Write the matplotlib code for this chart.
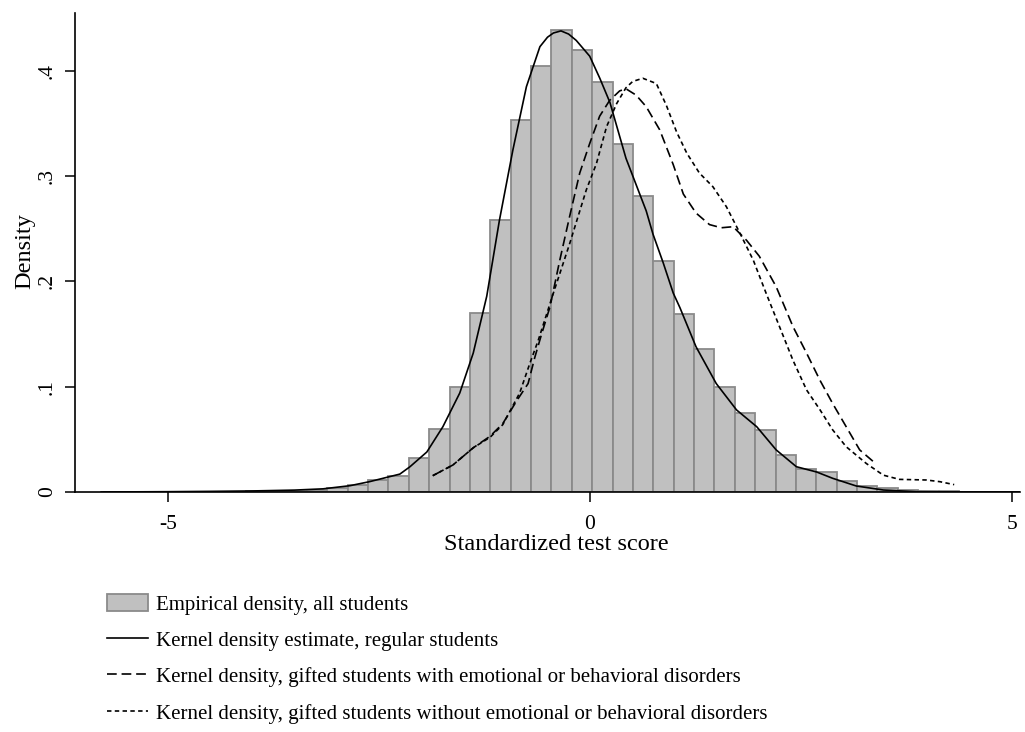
import numpy as np
import matplotlib
matplotlib.use("Agg")
import matplotlib.pyplot as plt
from matplotlib.patches import Patch
from matplotlib.lines import Line2D

plt.rcParams['font.family'] = ['Liberation Serif', 'DejaVu Serif']
plt.rcParams['lines.scale_dashes'] = False

# ---------------- data ----------------
bin_start = -5.766
bin_width = 0.2415
hist_heights = [0.0002, 0.0001, 0.0001, 0.0002, 0.0002, 0.0003, 0.0004, 0.0005,
                0.0008, 0.0012, 0.0019, 0.0035, 0.0067, 0.0114, 0.0155, 0.0326,
                0.0599, 0.0995, 0.170, 0.258, 0.353, 0.405, 0.439, 0.420,
                0.3895, 0.331, 0.281, 0.219, 0.169, 0.1356, 0.100, 0.0747,
                0.0589, 0.0348, 0.0215, 0.0187, 0.0105, 0.0057, 0.0035, 0.0019,
                0.0010, 0.0006, 0.0003, 0.0002, 0.0001]

regular_x = [-5.79, -5.0, -4.5, -4.0, -3.5, -3.16, -2.84, -2.61, -2.37, -2.25,
             -2.13, -1.93, -1.74, -1.54, -1.38, -1.22, -1.07, -0.91, -0.83, -0.75, -0.59,
             -0.50, -0.43, -0.34, -0.25, -0.16, 0.0, 0.12, 0.24, 0.43, 0.55, 0.67, 0.75, 0.87,
             0.99, 1.07, 1.26, 1.50, 1.74, 1.98, 2.21, 2.45, 2.69, 2.88, 3.16,
             3.48, 3.87, 4.5, 5.1]
regular_y = [0.0, 0.0003, 0.0006, 0.001, 0.0018, 0.003, 0.006, 0.0098, 0.0146, 0.017,
             0.024, 0.038, 0.062, 0.094, 0.132, 0.186, 0.258, 0.325, 0.355, 0.385, 0.423,
             0.432, 0.436, 0.438, 0.435, 0.429, 0.414, 0.393, 0.370, 0.317, 0.292, 0.267, 0.245, 0.218,
             0.189, 0.175, 0.138, 0.103, 0.078, 0.062, 0.040, 0.024, 0.019, 0.013, 0.0057,
             0.0019, 0.0003, 0.0, 0.0]

ebd_x = [-1.86, -1.62, -1.38, -1.18, -1.03, -0.87, -0.73, -0.65, -0.57, -0.47,
         -0.355, -0.237, -0.118, 0.0, 0.118, 0.237, 0.355, 0.43, 0.55, 0.67,
         0.83, 0.99, 1.11, 1.26, 1.42, 1.56, 1.70, 1.86, 2.01, 2.21, 2.41,
         2.57, 2.73, 2.88, 3.04, 3.20, 3.36]
ebd_y = [0.0155, 0.0257, 0.042, 0.053, 0.065, 0.086, 0.103, 0.128, 0.150, 0.176,
         0.220, 0.262, 0.303, 0.331, 0.357, 0.372, 0.381, 0.383, 0.377, 0.366,
         0.344, 0.311, 0.283, 0.265, 0.254, 0.251, 0.252, 0.239, 0.224, 0.195, 0.157,
         0.132, 0.106, 0.084, 0.062, 0.040, 0.029]

noebd_x = [-1.86, -1.62, -1.38, -1.18, -1.03, -0.83, -0.71, -0.61, -0.43, -0.237,
           -0.04, 0.08, 0.20, 0.32, 0.43, 0.51, 0.63, 0.79, 0.91, 1.03, 1.15,
           1.30, 1.46, 1.62, 1.78, 1.94, 2.09, 2.25, 2.41, 2.57, 2.73, 2.88,
           3.04, 3.28, 3.48, 3.67, 3.99, 4.15, 4.32]
noebd_y = [0.0155, 0.0257, 0.042, 0.052, 0.064, 0.094, 0.122, 0.144, 0.189, 0.236,
           0.287, 0.312, 0.347, 0.369, 0.384, 0.390, 0.393, 0.388, 0.367, 0.342, 0.322,
           0.303, 0.290, 0.271, 0.246, 0.220, 0.189, 0.157, 0.125, 0.097, 0.078, 0.059,
           0.043, 0.027, 0.016, 0.012, 0.0114, 0.0098, 0.0070]

x_ticks = [-5, 0, 5]
x_ticklabels = ['-5', '0', '5']
y_ticks = [0, 0.1, 0.2, 0.3, 0.4]
y_ticklabels = ['0', '.1', '.2', '.3', '.4']

legend_labels = ['Empirical density, all students',
                 'Kernel density estimate, regular students',
                 'Kernel density, gifted students with emotional or behavioral disorders',
                 'Kernel density, gifted students without emotional or behavioral disorders']

# ---------------- plot ----------------
FS_TICK = 15.5
FS_TITLE = 17.5
FS_LEG = 15.0
fig = plt.figure(figsize=(10.25, 7.32), dpi=100)
ax = fig.add_axes([75/1025, 1-492/732, (1020-75)/1025, (492-13)/732])

edges = bin_start + bin_width*np.arange(len(hist_heights))
ax.bar(edges, hist_heights, width=bin_width, align='edge',
       color='#c0c0c0', edgecolor='#8a8a8a', linewidth=1.3, zorder=1)

lw = 1.2
ax.plot(regular_x, regular_y, color='black', lw=lw, zorder=3)
ax.plot(ebd_x, ebd_y, color='black', lw=lw, dashes=(7, 3.5), zorder=3)
ax.plot(noebd_x, noebd_y, color='black', lw=lw, dashes=(3.2, 2.4), zorder=3)

ax.set_xlim(-6.1, 5.1)
ax.set_ylim(0, 0.455)
for s in ['top', 'right']:
    ax.spines[s].set_visible(False)
for s in ['left', 'bottom']:
    ax.spines[s].set_linewidth(1.2)
    ax.spines[s].set_color('black')

ax.set_xticks(x_ticks)
ax.set_xticklabels(x_ticklabels, fontsize=FS_TICK)
ax.set_yticks(y_ticks)
ax.set_yticklabels(y_ticklabels, fontsize=FS_TICK, rotation=90, va='center')
ax.tick_params(axis='both', direction='out', length=7, width=1.1)
ax.tick_params(axis='x', pad=9.5)
ax.tick_params(axis='y', pad=6)
ax.set_xlabel('Standardized test score', fontsize=FS_TITLE)
ax.xaxis.set_label_coords(0.509, -0.109, transform=ax.transAxes)
ax.xaxis.label.set_va('center')
ax.set_ylabel('Density', fontsize=FS_TITLE)
ax.yaxis.set_label_coords(-0.053, 0.503, transform=ax.transAxes)
ax.yaxis.label.set_va('center')

handles = [Patch(facecolor='#c0c0c0', edgecolor='#8a8a8a', linewidth=1.3),
           Line2D([], [], color='black', lw=lw),
           Line2D([], [], color='black', lw=lw, dashes=(7, 3.5)),
           Line2D([], [], color='black', lw=lw, dashes=(3.2, 2.4))]
fig.legend(handles, legend_labels, loc='upper left',
           bbox_to_anchor=(107/1025, 1-594/732), frameon=False, fontsize=FS_LEG,
           handlelength=1.95, handleheight=0.9, handletextpad=0.4,
           labelspacing=0.74, borderaxespad=0, borderpad=0)

fig.savefig('out.png', dpi=100)
